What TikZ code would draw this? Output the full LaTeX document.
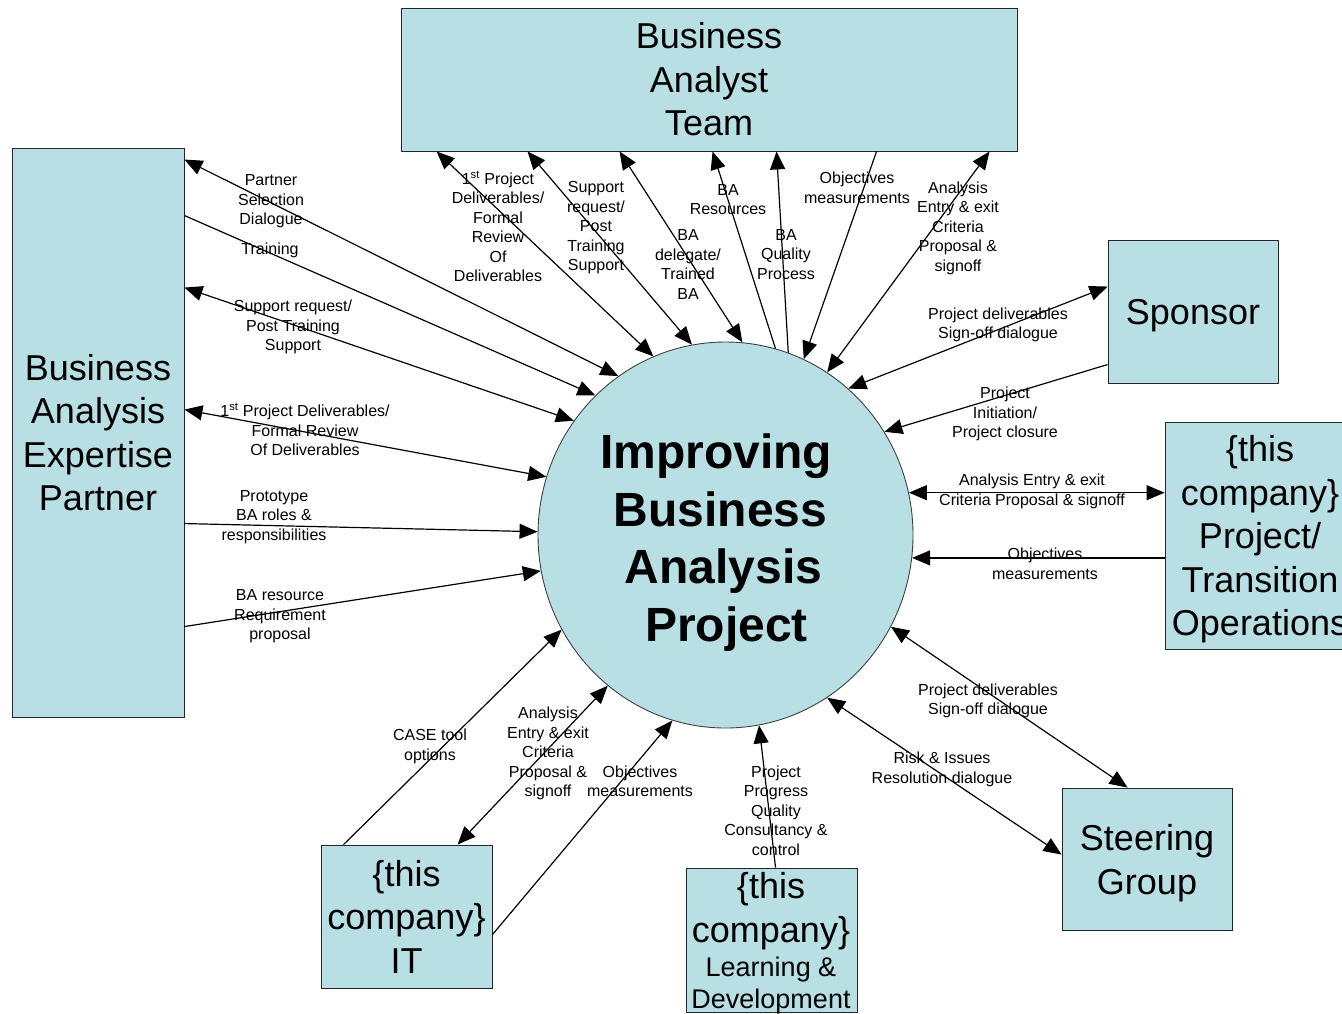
\documentclass[tikz,border=0pt]{standalone}
\usepackage{fontspec}
\setmainfont{Liberation Sans}
\usetikzlibrary{arrows.meta,shapes.geometric,calc}
\definecolor{paleteal}{RGB}{184,223,227}
% taller first line, so a box caption sits a little lower
\newcommand{\capstrut}{\rule{0pt}{34pt}}
\begin{document}
\begin{tikzpicture}[x=1pt,y=-1pt,
  box/.style={draw=black!85, fill=paleteal, line width=0.9pt, inner sep=0pt, align=center,
              font=\fontsize{36}{43.5}\selectfont},
  lbl/.style={align=center, inner sep=0pt, yshift=-2.5pt, font=\fontsize{16}{19.5}\selectfont},
  flow/.style={line width=1.2pt, -{Triangle[length=18pt,width=15pt]}},
  both/.style={line width=1.2pt, {Triangle[length=18pt,width=15pt]}-{Triangle[length=18pt,width=15pt]}}
]
\useasboundingbox (0,0) rectangle (1342,1013);
\fill[white] (0,0) rectangle (1342,1013);

% ---- participants ----
\node[box, minimum width=616pt, minimum height=143pt] (bat) at (709,79.5) {Business\\Analyst\\Team};
\node[box, minimum width=172pt, minimum height=569pt] (lp) at (98,432.5) {Business\\Analysis\\Expertise\\Partner};
\node[box, minimum width=170pt, minimum height=143pt] (sp) at (1193,311.5) {\capstrut Sponsor};
\node[box, minimum width=190pt, minimum height=227pt] (tr) at (1260,535.5) {\capstrut\{this\\company\}\\Project/\\Transition\\Operations};
\node[box, minimum width=170pt, minimum height=142pt] (sg) at (1147,859) {\capstrut Steering\\Group};
\node[box, minimum width=171pt, minimum height=143pt] (it) at (406.5,916.5) {\{this\\company\}\\IT};
\node[box, minimum width=171pt, minimum height=144pt] (ld) at (771.5,940) {};
\node[align=center, inner sep=0pt, font=\fontsize{36}{43.5}\selectfont] (ldtop) at (771,911) {\{this\\company\}};
\node[align=center, inner sep=0pt, font=\fontsize{27}{32}\selectfont] (ldbot) at (771,986) {Learning \&\\Development};

% ---- project ----
\node[ellipse, draw=black!75, fill=paleteal, line width=0.9pt, inner sep=0pt,
      minimum width=375pt, minimum height=386pt] (circ) at (725.5,535) {};
\node[align=center, inner sep=0pt, font=\bfseries\fontsize{48}{57.7}\selectfont] (ctext) at (720.5,542.5)
  {Improving\hspace*{9pt}\\Business\\\hspace*{6pt}Analysis\\\hspace*{12pt}Project};

% ---- flows to and from the analyst team ----
\draw[both] ($(bat.south west)+(36,0)$) -- (circ.112.4);
\draw[both] ($(bat.south west)+(127,0)$) -- (circ.100.6);
\draw[both] ($(bat.south west)+(219,0)$) -- (circ.85.2);
\draw[flow] (circ.75.5) -- ($(bat.south west)+(312,0)$);
\draw[flow] (circ.71.6) -- ($(bat.south west)+(376,0)$);
\draw[flow] ($(bat.south west)+(476,0)$) -- (circ.66);
\draw[both] ($(bat.south west)+(589,0)$) -- (circ.58.6);

% ---- flows to and from the expertise partner ----
\draw[both] ($(lp.north east)+(0,12)$) -- (circ.124.6);
\draw[flow] ($(lp.north east)+(0,68)$) -- (circ.133);
\draw[both] ($(lp.north east)+(0,140)$) -- (circ.143.5);
\draw[both] ($(lp.north east)+(0,262)$) -- (circ.162.2);
\draw[flow] ($(lp.north east)+(0,376)$) -- (circ.179.4);
\draw[flow] ($(lp.north east)+(0,479)$) -- (circ.-169.4);

% ---- sponsor and operations ----
\draw[both] ($(sp.north west)+(0,47)$) -- (circ.50.8);
\draw[flow] ($(sp.north west)+(0,125)$) -- (circ.33.4);
\draw[both] (circ.13.9) -- (circ.13.9 -| tr.west);
\draw[flow] (circ.-7.35 -| tr.west) -- (circ.-7.35);

% ---- steering group ----
\draw[both] (circ.-29.9) -- ($(sg.north west)+(66,0)$);
\draw[both] (circ.-58.6) -- ($(sg.north west)+(0,67)$);

% ---- learning & development and IT ----
\draw[flow] ($(ld.north west)+(90,0)$) -- (circ.-80.8);
\draw[flow] ($(it.north east)+(0,90)$) -- (circ.-106.1);
\draw[both] ($(it.north west)+(137,0)$) -- (circ.-128.6);
\draw[flow] ($(it.north west)+(23,0)$) -- (circ.-150.1);

% ---- flow labels ----
\node[lbl] (l1) at (498,224) {1\textsuperscript{st} Project\\Deliverables/\\Formal\\Review\\Of\\Deliverables};
\node[lbl] (l2) at (596,225.5) {Support\\request/\\Post\\Training\\Support};
\node[lbl] (l3) at (688,262) {BA\\delegate/\\Trained\\BA};
\node[lbl] (l4) at (728,197) {BA\\Resources};
\node[lbl] (l5) at (786,252) {BA\\Quality\\Process};
\node[lbl] (l6) at (857,185.5) {Objectives\\measurements};
\node[lbl] (l7) at (958,225.5) {Analysis\\Entry \& exit\\Criteria\\Proposal \&\\signoff};

\node[lbl] (l8) at (271,199) {Partner\\Selection\\Dialogue};
\node[lbl] (l9) at (270,248) {Training};
\node[lbl] (l10) at (293,324.5) {Support request/\\Post Training\\Support};
\node[lbl] (l11) at (305,427) {1\textsuperscript{st} Project Deliverables/\\Formal Review\\Of Deliverables};
\node[lbl] (l12) at (274,514.5) {Prototype\\BA roles \&\\responsibilities};
\node[lbl] (l13) at (280,614) {BA resource\\Requirement\\proposal};

\node[lbl] (l14) at (998,322.5) {Project deliverables\\Sign-off dialogue};
\node[lbl] (l15) at (1005,411.5) {Project\\Initiation/\\Project closure};
\node[lbl] (l16) at (1032,489) {Analysis Entry \& exit\\Criteria Proposal \& signoff};
\node[lbl] (l17) at (1045,561.5) {Objectives\\measurements};
\node[lbl] (l18) at (988,698.5) {Project deliverables\\Sign-off dialogue};
\node[lbl] (l19) at (942,767) {Risk \& Issues\\Resolution dialogue};

\node[lbl] (l20) at (776,808) {Project\\Progress\\Quality\\Consultancy \&\\control};
\node[lbl] (l21) at (640,779) {Objectives\\measurements};
\node[lbl] (l22) at (548,751) {Analysis\\Entry \& exit\\Criteria\\Proposal \&\\signoff};
\node[lbl] (l23) at (430,744) {CASE tool\\options};
\end{tikzpicture}
\end{document}
